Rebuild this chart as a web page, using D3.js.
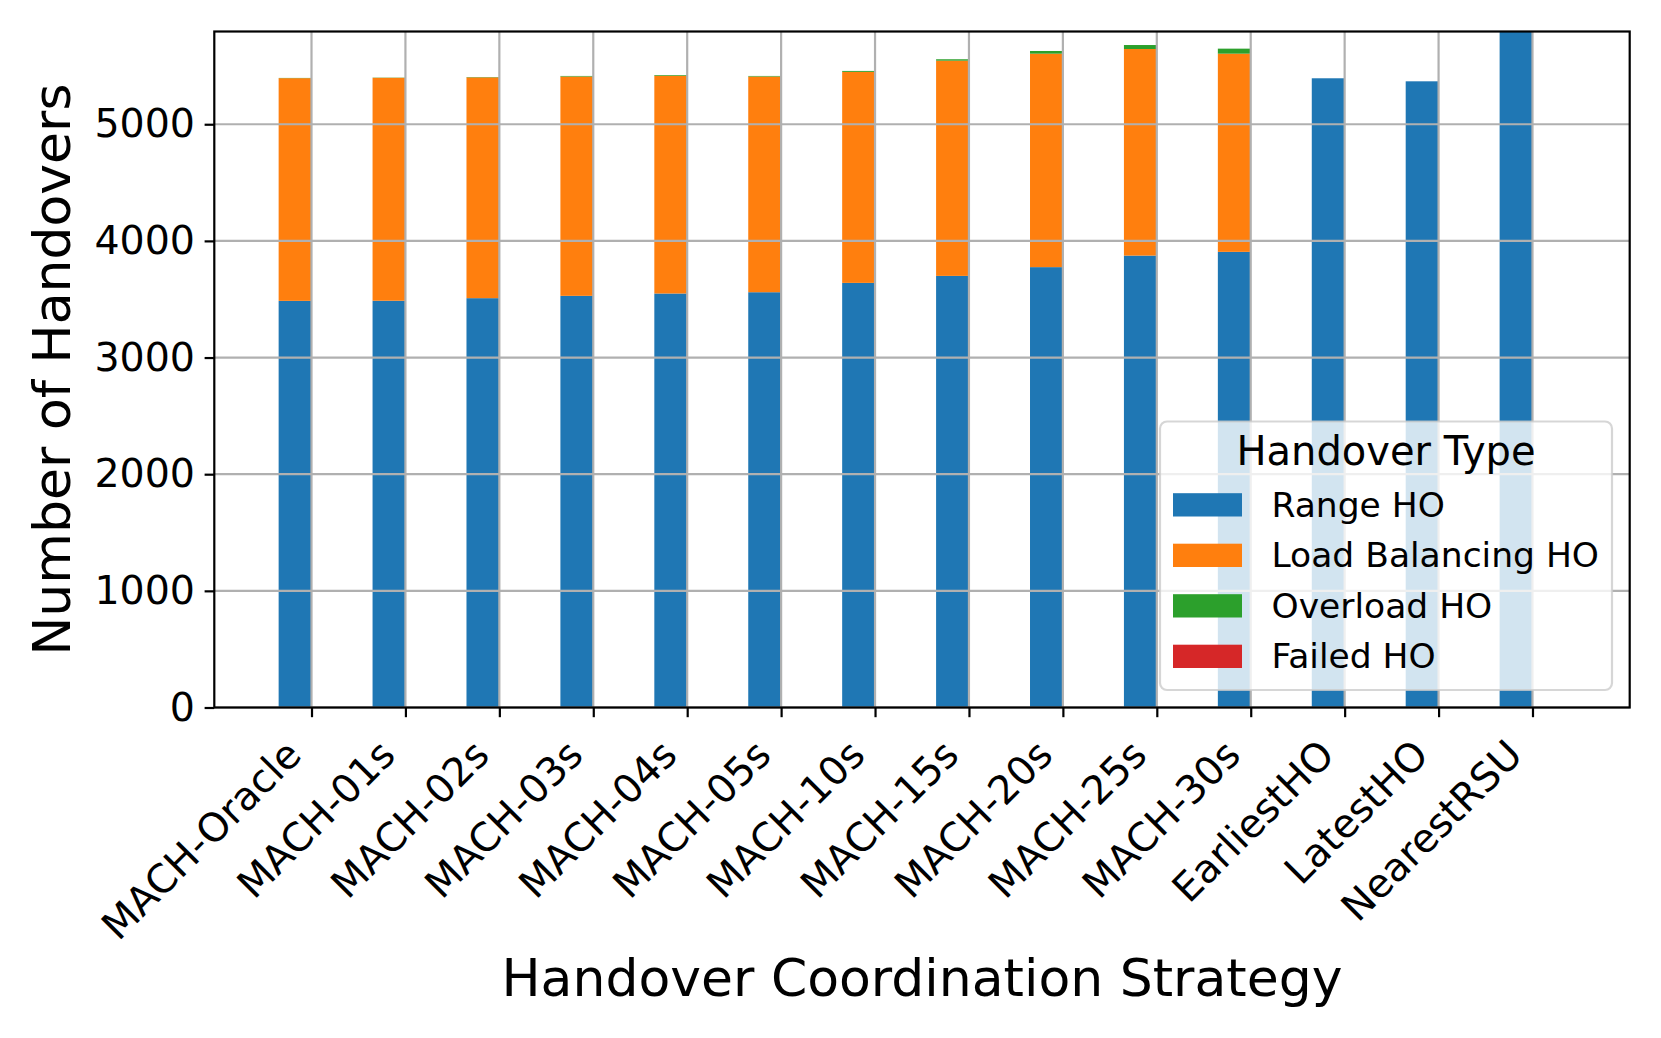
<!DOCTYPE html>
<html>
<head>
<meta charset="utf-8">
<script src="https://cdn.jsdelivr.net/npm/d3@7"></script>
<style>
  body { margin: 0; background: #fff; }
  text { font-family: "DejaVu Sans", sans-serif; }
</style>
</head>
<body>
<div id="chart"></div>
<script>
// data
const categories = ["MACH-Oracle", "MACH-01s", "MACH-02s", "MACH-03s", "MACH-04s", "MACH-05s",
  "MACH-10s", "MACH-15s", "MACH-20s", "MACH-25s", "MACH-30s", "EarliestHO", "LatestHO", "NearestRSU"];
const rangeHO = [3486, 3487, 3509, 3529, 3549, 3560, 3640, 3700, 3775, 3874, 3906, 5394, 5368, 6150];
const loadBalancingHO = [1909, 1911, 1893, 1880, 1867, 1849, 1809, 1845, 1830, 1771, 1699, 0, 0, 0];
const overloadHO = [2, 2, 3, 5, 6, 5, 8, 12, 23, 34, 43, 0, 0, 0];
const failedHO = [0, 0, 0, 0, 0, 0, 0, 0, 0, 0, 0, 0, 0, 0];
const seriesNames = ["Range HO", "Load Balancing HO", "Overload HO", "Failed HO"];
const seriesColors = ["#1f77b4", "#ff7f0e", "#2ca02c", "#d62728"];
const yTicks = [0, 1000, 2000, 3000, 4000, 5000];

const SVG_W = 1661, SVG_H = 1038;
const MARGIN = { TOP: 31.5, BOTTOM: 330.5, LEFT: 214.3, RIGHT: 31.3 };
const WIDTH = SVG_W - MARGIN.LEFT - MARGIN.RIGHT;
const HEIGHT = SVG_H - MARGIN.TOP - MARGIN.BOTTOM;
const BAR_W = 0.35;
const TICK_LEN = 9.7, TICK_PAD = 9.7;
const TICK_FONT = 39.5, LABEL_FONT = 52;

const rows = categories.map((c, i) => ({
  i: i, cat: c,
  "Range HO": rangeHO[i],
  "Load Balancing HO": loadBalancingHO[i],
  "Overload HO": overloadHO[i],
  "Failed HO": failedHO[i]
}));

const svg = d3.select("#chart").append("svg")
  .attr("width", SVG_W)
  .attr("height", SVG_H)
  .style("display", "block");

svg.append("rect").attr("width", SVG_W).attr("height", SVG_H).attr("fill", "#fff");

const g = svg.append("g")
  .attr("transform", `translate(${MARGIN.LEFT}, ${MARGIN.TOP})`);

const x = d3.scaleLinear()
  .domain([-1.035, categories.length - 1 + 1.035])
  .range([0, WIDTH]);

const y = d3.scaleLinear()
  .domain([0, 5795])
  .range([HEIGHT, 0]);

g.append("clipPath").attr("id", "plot-clip")
  .append("rect").attr("width", WIDTH).attr("height", HEIGHT);

// stacked bars, right edge on the tick
const stack = d3.stack().keys(seriesNames)(rows);

g.append("g").attr("clip-path", "url(#plot-clip)")
  .selectAll("g")
  .data(stack)
  .enter().append("g")
    .attr("fill", (d, k) => seriesColors[k])
  .selectAll("rect")
  .data(d => d)
  .enter().append("rect")
    .attr("x", d => x(d.data.i - BAR_W))
    .attr("width", d => x(d.data.i) - x(d.data.i - BAR_W))
    .attr("y", d => y(d[1]))
    .attr("height", d => Math.max(0, y(d[0]) - y(d[1])));

// grid on top of the bars
const grid = g.append("g").attr("stroke", "#b0b0b0").attr("stroke-width", 2.2);
grid.selectAll(".gy").data(yTicks).enter().append("line")
  .attr("x1", 0).attr("x2", WIDTH)
  .attr("y1", d => y(d)).attr("y2", d => y(d));
grid.selectAll(".gx").data(d3.range(categories.length)).enter().append("line")
  .attr("y1", 0).attr("y2", HEIGHT)
  .attr("x1", d => x(d)).attr("x2", d => x(d));

// axes
const yAxisGroup = g.append("g")
  .call(d3.axisLeft(y).tickValues(yTicks).tickFormat(d3.format("d"))
    .tickSize(TICK_LEN).tickPadding(TICK_PAD));
yAxisGroup.select(".domain").remove();
yAxisGroup.selectAll("line").attr("stroke", "#000").attr("stroke-width", 2.2);
yAxisGroup.selectAll("text")
  .attr("font-size", TICK_FONT)
  .attr("font-family", "DejaVu Sans")
  .attr("fill", "#000");

const xAxisGroup = g.append("g")
  .attr("transform", `translate(0, ${HEIGHT})`)
  .call(d3.axisBottom(x).tickValues(d3.range(categories.length))
    .tickFormat(i => categories[i]).tickSize(TICK_LEN));
xAxisGroup.select(".domain").remove();
xAxisGroup.selectAll("line").attr("stroke", "#000").attr("stroke-width", 2.2);
// rotated labels: upper-right corner of the rotated box sits just below the tick
const asc = 0.76 * TICK_FONT, desc = 0.236 * TICK_FONT;
xAxisGroup.selectAll("text")
  .attr("font-size", TICK_FONT)
  .attr("font-family", "DejaVu Sans")
  .attr("fill", "#000")
  .attr("text-anchor", "end")
  .attr("dy", null)
  .attr("y", null)
  .attr("transform", `translate(${-0.707 * desc - 2}, ${TICK_LEN + TICK_PAD + 0.707 * asc + 9}) rotate(-45)`);

// axis labels
svg.append("text")
  .attr("x", MARGIN.LEFT + WIDTH / 2)
  .attr("y", 996)
  .attr("font-size", LABEL_FONT)
  .attr("text-anchor", "middle")
  .text("Handover Coordination Strategy");

svg.append("text")
  .attr("transform", `translate(70, ${MARGIN.TOP + HEIGHT / 2}) rotate(-90)`)
  .attr("font-size", LABEL_FONT)
  .attr("text-anchor", "middle")
  .text("Number of Handovers");

// legend
const legend = svg.append("g").attr("transform", "translate(1160, 421.5)");
const LEG_W = 452, LEG_H = 268.5;
legend.append("rect")
  .attr("width", LEG_W).attr("height", LEG_H)
  .attr("rx", 7).attr("ry", 7)
  .attr("fill", "#fff").attr("fill-opacity", 0.8)
  .attr("stroke", "#cccccc").attr("stroke-opacity", 0.8).attr("stroke-width", 2.2);
legend.append("text")
  .attr("x", LEG_W / 2).attr("y", 43)
  .attr("font-size", 40)
  .attr("text-anchor", "middle")
  .text("Handover Type");
const items = legend.selectAll(".item").data(seriesNames).enter().append("g")
  .attr("transform", (d, k) => `translate(0, ${95 + k * 50.5})`);
items.append("rect")
  .attr("x", 13).attr("y", -23.3).attr("width", 69).attr("height", 23.3)
  .attr("fill", (d, k) => seriesColors[k]);
items.append("text")
  .attr("x", 111.5).attr("y", 0)
  .attr("font-size", 34.5)
  .text(d => d);

// spines last
g.append("rect")
  .attr("width", WIDTH).attr("height", HEIGHT)
  .attr("fill", "none").attr("stroke", "#000").attr("stroke-width", 2.2);
</script>
</body>
</html>
